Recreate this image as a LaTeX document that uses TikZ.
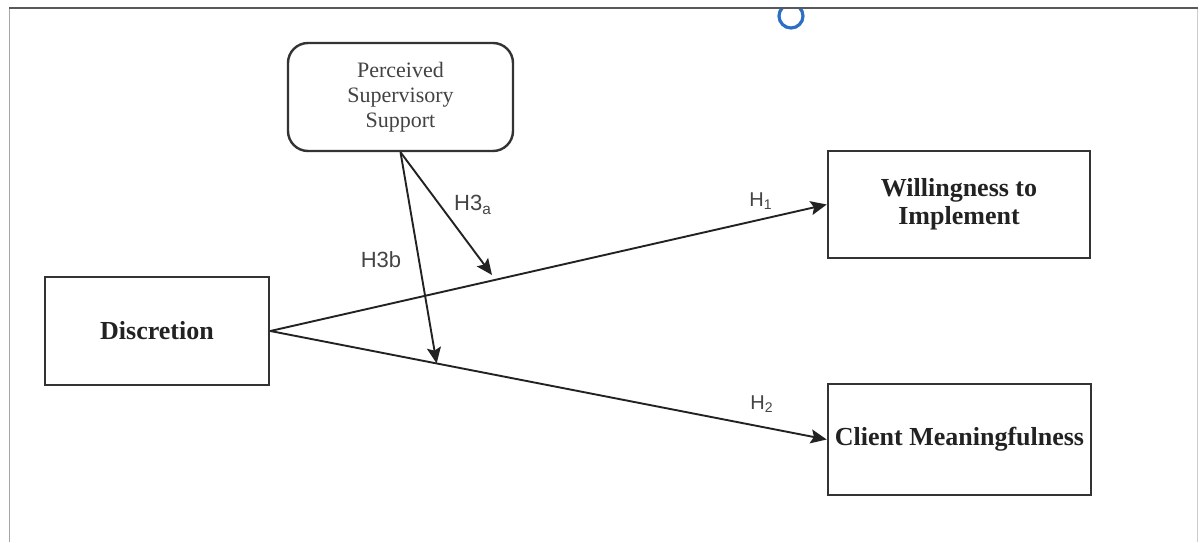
\documentclass[tikz,border=0pt]{standalone}
\usepackage{fontspec}
\setmainfont{Liberation Serif}
\newfontfamily\labelfont{Liberation Sans}
\usetikzlibrary{arrows.meta}
\definecolor{boxline}{HTML}{333333}
\definecolor{txt}{HTML}{222222}
\definecolor{lbl}{HTML}{444444}
\definecolor{handle}{HTML}{2A6FC4}
\tikzset{
  px/.style={x=0.5pt,y=-0.5pt},
  varbox/.style={draw=boxline, line width=1.3pt, fill=white, inner sep=0pt,
    align=center, text=txt, font=\fontsize{13}{14}\selectfont\bfseries},
  modbox/.style={draw=boxline, line width=1.2pt, fill=white, inner sep=0pt,
    rounded corners=10pt, align=center, text=txt!85,
    font=\fontsize{11}{12.5}\selectfont},
  link/.style={draw=txt, line width=0.95pt, -{Stealth[length=8pt,width=7pt,inset=1.5pt]}},
  hlabel/.style={text=lbl, inner sep=0pt, font=\labelfont\fontsize{10}{11}\selectfont},
  h3label/.style={text=lbl, inner sep=0pt, font=\labelfont\fontsize{11}{12}\selectfont}
}
\begin{document}
\begin{tikzpicture}[px]
\useasboundingbox (0,0) rectangle (1200,542);
% frame
\draw[draw=black!35, line width=0.8pt] (9.5,8) -- (9.5,542);
\draw[draw=black!20, line width=0.7pt] (1197.5,8) -- (1197.5,542);
% selection handle
\begin{scope}
\clip (770,8.5) rectangle (815,40);
\draw[draw=handle, line width=1.6pt] (791,16) circle[radius=12];
\end{scope}
\draw[draw=black!65, line width=0.9pt] (9,8) -- (1198,8);
% nodes
\node[modbox, minimum width=112.5pt, minimum height=54pt] (pss) at (400.5,97)
  {Perceived\\Supervisory\\Support};
\node[varbox, minimum width=131pt, minimum height=53.5pt] (wti) at (959,204.5)
  {Willingness to\\Implement};
\node[varbox, minimum width=112pt, minimum height=54pt] (disc) at (157,331)
  {Discretion};
\node[varbox, minimum width=131.5pt, minimum height=55.5pt] (cm) at (959.5,439.5)
  {Client Meaningfulness};
% paths
\draw[link] (disc.east) -- (wti.west);
\draw[link] (disc.east) -- (cm.west);
\path (disc.east) -- (cm.west) coordinate[pos=0.299] (h3b);
\coordinate (h3a) at (492,275);
\draw[link] (pss.south) -- (h3a);
\draw[link] (pss.south) -- (h3b);
% labels
\node[hlabel] (l1) at (761,201) {H\textsubscript{1}};
\node[hlabel] (l2) at (762,404) {H\textsubscript{2}};
\node[h3label] (l3a) at (473,205) {H3\textsubscript{a}};
\node[h3label] (l3b) at (381,260) {H3b};
\end{tikzpicture}
\end{document}
